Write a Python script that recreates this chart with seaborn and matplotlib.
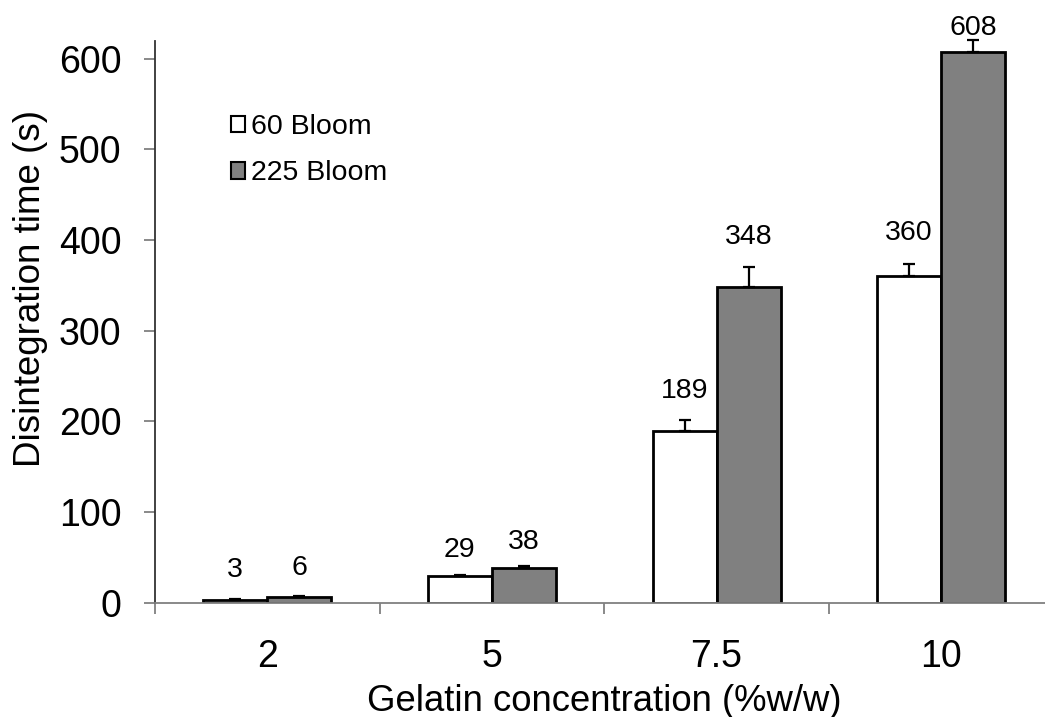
import matplotlib
matplotlib.use("Agg")
import matplotlib.pyplot as plt
import seaborn as sns
import pandas as pd
import numpy as np

# ---- data ----
conc = ["2", "5", "7.5", "10"]
series_names = ["60 Bloom", "225 Bloom"]
bloom60 = [3, 29, 189, 360]
bloom225 = [6, 38, 348, 608]
err60 = [1, 2, 13, 14]
err225 = [1, 3, 22, 13]

# ---- style ----
label_off60 = [29, 25, 29, 31]   # pixels above error cap
label_off225 = [28, 24, 30, 12]

sns.set_theme(style="white")
plt.rcParams["font.family"] = ["Liberation Sans", "DejaVu Sans"]
plt.rcParams["text.color"] = "black"
plt.rcParams["axes.labelcolor"] = "black"
plt.rcParams["xtick.labelcolor"] = "black"
plt.rcParams["ytick.labelcolor"] = "black"

df = pd.DataFrame({
    "conc": conc * 2,
    "time": bloom60 + bloom225,
    "series": [series_names[0]] * 4 + [series_names[1]] * 4,
})

fig = plt.figure(figsize=(10.45, 7.17), dpi=100)
ax = fig.add_axes([155 / 1045, 1 - 602.7 / 717, 898.5 / 1045, 562 / 717])

sns.barplot(data=df, x="conc", y="time", hue="series", order=conc,
            hue_order=series_names, palette=["white", "#808080"],
            width=0.57, edgecolor="black", linewidth=2.0, errorbar=None,
            saturation=1, ax=ax)

errs = [err60, err225]
vals = [bloom60, bloom225]
offs = [label_off60, label_off225]
for cont, e, v, o in zip(ax.containers, errs, vals, offs):
    xs = [r.get_x() + r.get_width() / 2 for r in cont]
    hs = [r.get_height() for r in cont]
    eb = ax.errorbar(xs, hs, yerr=[np.zeros(len(e)), e], fmt="none", ecolor="black",
                     elinewidth=1.6, capsize=4.5, capthick=1.6, zorder=3)
    for art in eb.lines[1] + eb.lines[2]:
        art.set_clip_on(False)
    for x, h, ee, vv, oo in zip(xs, hs, e, v, o):
        ax.annotate(f"{vv}", xy=(x, h + ee), xytext=(0, oo),
                    textcoords="offset pixels", ha="center", va="center",
                    fontsize=20.5, color="black", annotation_clip=False)

ax.set_xlim(-0.5, 3.5)
ax.set_ylim(0, 620)
ax.set_yticks(range(0, 601, 100))
ax.tick_params(axis="y", which="major", direction="out", length=8, width=1.3,
               color="#808080", labelsize=27, pad=16, left=True)
ax.set_xticks([-0.5, 0.5, 1.5, 2.5, 3.5])
ax.set_xticklabels([])
ax.set_xticks(range(len(conc)), minor=True)
ax.set_xticklabels(conc, minor=True)
ax.tick_params(axis="x", which="major", direction="out", length=8, width=1.3,
               color="#808080", bottom=True)
ax.tick_params(axis="x", which="minor", length=0, labelsize=27, pad=26)

for s in ["top", "right"]:
    ax.spines[s].set_visible(False)
ax.spines["left"].set_color("#333333")
ax.spines["left"].set_linewidth(1.3)
ax.spines["bottom"].set_color("#808080")
ax.spines["bottom"].set_linewidth(1.3)

ax.set_ylabel("Disintegration time (s)", fontsize=26.5)
ax.yaxis.set_label_coords((48 - 155) / 898.5, (602.7 - 288.5) / 562)
ax.set_xlabel("Gelatin concentration (%w/w)", fontsize=26.3, labelpad=0)
ax.xaxis.set_label_coords(0.5, -(684 - 602.7) / 562)

handles, labels = ax.get_legend_handles_labels()
leg = ax.legend(handles, labels, loc="upper left",
                bbox_to_anchor=(231 / 1045, 1 - 114 / 717),
                bbox_transform=fig.transFigure, frameon=False, fontsize=20.5,
                handlelength=0.5, handleheight=0.5, handletextpad=0.2,
                labelspacing=0.72, borderpad=0, borderaxespad=0)
for h in leg.legend_handles:
    h.set_edgecolor("black")
    h.set_linewidth(1.5)

fig.savefig("out.png", dpi=100)
